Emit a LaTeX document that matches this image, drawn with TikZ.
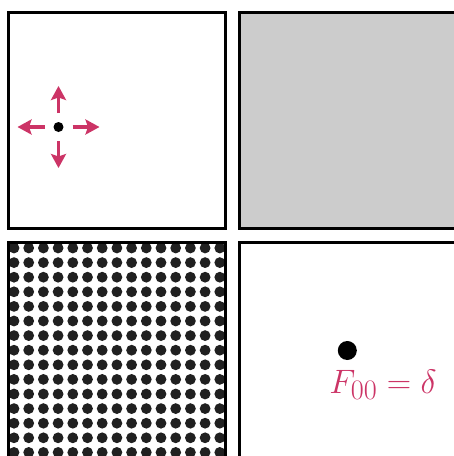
\documentclass[tikz,border=0pt]{standalone}
\usepackage{amsmath,amssymb}
\usepackage{graphicx}
\usepackage{tikz}
\usetikzlibrary{arrows.meta,calc}

\definecolor{pushred}{RGB}{204,52,102}
\definecolor{panelgray}{RGB}{204,204,204}
\definecolor{dotgray}{RGB}{32,32,32}

\begin{document}
\begin{tikzpicture}[x=1pt,y=-1pt,
    panel/.style={draw=black,line width=3pt},
    pusharrow/.style={draw=pushred,line width=3.4pt,-{Stealth[length=14pt,width=15pt,inset=2.5pt]}},
    blob/.style={circle,fill=black,inner sep=0pt,minimum size=#1}]
        \clip (0,0) rectangle (454,456);
        \fill[white] (0,0) rectangle (454,456);
        % top left: one point pushing outwards
        \draw[panel] (8.5,12.5) rectangle (225,228);
        \node[blob=10pt] (src) at (58.5,127) {};
        \foreach \ang in {0,90,180,270}
            \draw[pusharrow] (src.center) ++(\ang:14) coordinate (t\ang) -- ++(\ang:27) coordinate (h\ang);
        % top right
        \draw[panel,fill=panelgray] (239.5,12.5) rectangle (460,228);
        % bottom left: grid of points
        \begin{scope}
            \clip (8.5,242.3) rectangle (225,460);
            \foreach \i in {0,...,14}
                \foreach \j in {0,...,14}
                    \fill[dotgray] (14+14.7*\i,248+14.6*\j) circle (5.4);
        \end{scope}
        \draw[panel] (8.5,242.3) rectangle (225,470);
        % bottom right
        \draw[panel] (239.5,242.3) rectangle (470,470);
        \node[blob=19pt] (delta) at (347.3,350.5) {};
        \node[text=pushred,font=\Huge,anchor=base,inner sep=0pt] (lbl) at (383,393) {\scalebox{1.36}{$F_{00}=\delta$}};
\end{tikzpicture}
\end{document}
